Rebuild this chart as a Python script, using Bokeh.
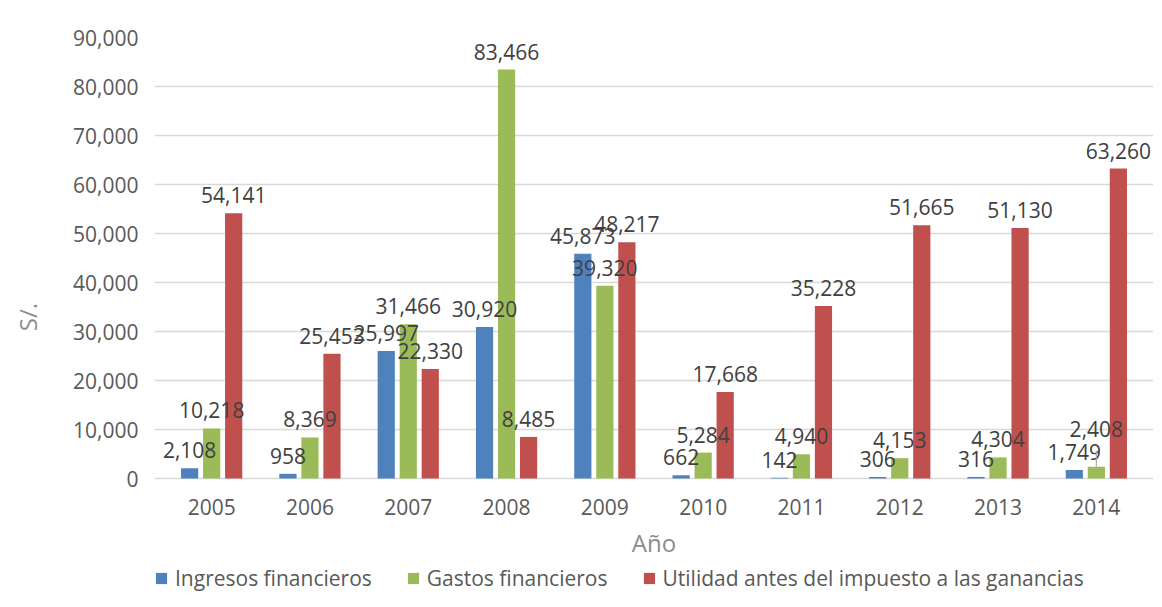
from bokeh.plotting import figure
from bokeh.models import (ColumnDataSource, FactorRange, Range1d, Legend, LegendItem,
                          NumeralTickFormatter, FixedTicker)
from bokeh.transform import dodge
from bokeh.core.properties import value
from bokeh.embed import file_html
from bokeh.resources import INLINE

# ---------------- data ----------------
years = ["2005", "2006", "2007", "2008", "2009", "2010", "2011", "2012", "2013", "2014"]
ingresos = [2108, 958, 25997, 30920, 45873, 662, 142, 306, 316, 1749]
gastos = [10218, 8369, 31466, 83466, 39320, 5284, 4940, 4153, 4304, 2408]
utilidad = [54141, 25453, 22330, 8485, 48217, 17668, 35228, 51665, 51130, 63260]
series_names = ["Ingresos financieros", "Gastos financieros",
                "Utilidad antes del impuesto a las ganancias"]
y_ticks = [0, 10000, 20000, 30000, 40000, 50000, 60000, 70000, 80000, 90000]

# ---------------- style ----------------
colors = ["#4f81bd", "#9bbb59", "#c0504d"]
offsets = [-0.224, 0.0, 0.224]
bar_w = 0.175
FONT = "Open Sans"
FS = "21px"
DATA_H = 441          # pixel height of the 0..90,000 value area
EXTRA_H = 118         # room under the value area for axis labels and legend
CAT_W = 98.3          # pixel width of one category
PAD_PX = 8
Y_MAX = 90000
px_per_unit = DATA_H / Y_MAX
Y_MIN = -EXTRA_H / px_per_unit

x_range = FactorRange(*years, range_padding=PAD_PX / CAT_W, range_padding_units="absolute")
p = figure(x_range=x_range, y_range=Range1d(Y_MIN, Y_MAX),
           frame_width=int(round(CAT_W * len(years) + 2 * PAD_PX)), frame_height=DATA_H + EXTRA_H,
           output_backend="svg", toolbar_location=None,
           min_border_left=154, min_border_right=7, min_border_top=37, min_border_bottom=0)

p.outline_line_color = None
p.xgrid.grid_line_color = None
p.ygrid.grid_line_color = "#d9d9d9"
p.ygrid.grid_line_width = 1.5
p.ygrid.ticker = FixedTicker(ticks=y_ticks)

series_vals = [ingresos, gastos, utilidad]
renderers = []
label_jobs = []
for name, vals, c, off in zip(series_names, series_vals, colors, offsets):
    # 2014 Gastos label is displaced upward with a leader line (as in the reference)
    displaced = [name == "Gastos financieros" and yr == "2014" for yr in years]
    src = ColumnDataSource(dict(years=years, v=vals, lab=[f"{v:,}" for v in vals],
                                yoff=[-38 if d else -18 for d in displaced]))
    xs = dodge("years", off, range=p.x_range)
    r = p.vbar(x=xs, top="v", width=bar_w, source=src, fill_color=c, line_color=None)
    renderers.append(r)
    label_jobs.append((src, xs, vals, displaced))

for src, xs, vals, displaced in label_jobs:
    for yr, v, d in zip(years, vals, displaced):
        if d:
            lsrc = ColumnDataSource(dict(years=[yr], y0=[v], y1=[v + 16 / px_per_unit]))
            p.segment(x0=xs, x1=xs, y0="y0", y1="y1", source=lsrc,
                      line_color="#a6a6a6", line_width=1.2)
    p.text(x=xs, y="v", text="lab", y_offset="yoff", source=src, text_align="center",
           text_baseline="alphabetic", text_font=value(FONT), text_font_size=FS,
           text_color="#404040")

# axes
p.yaxis.ticker = FixedTicker(ticks=y_ticks)
p.yaxis.formatter = NumeralTickFormatter(format="0,0")
for ax in (p.xaxis[0], p.yaxis[0]):
    ax.axis_line_color = None
    ax.major_tick_line_color = None
    ax.minor_tick_line_color = None
    ax.major_tick_out = 0
    ax.major_tick_in = 0
    ax.major_label_text_font = FONT
    ax.major_label_text_font_size = FS
    ax.major_label_text_color = "#595959"
    ax.axis_label_text_font = FONT
    ax.axis_label_text_font_size = "24px"
    ax.axis_label_text_font_style = "normal"
    ax.axis_label_text_color = "#8c8c8c"
p.yaxis.axis_label = "S/."
p.yaxis.major_label_standoff = 16
p.yaxis.axis_label_standoff = 26
p.xaxis.axis_label = "Año"
p.xaxis.fixed_location = 0
p.xaxis.major_label_standoff = 20
p.xaxis.axis_label_standoff = 8

legend = Legend(items=[LegendItem(label=n, renderers=[r]) for n, r in zip(series_names, renderers)],
                orientation="horizontal", location=(0, 4),
                label_text_font=FONT, label_text_font_size="21px", label_text_color="#595959",
                glyph_width=14, glyph_height=14, spacing=34, label_standoff=7,
                border_line_color=None, background_fill_alpha=0, margin=0, padding=0)
p.add_layout(legend, "center")

open("out.html", "w").write(file_html(p, INLINE))
